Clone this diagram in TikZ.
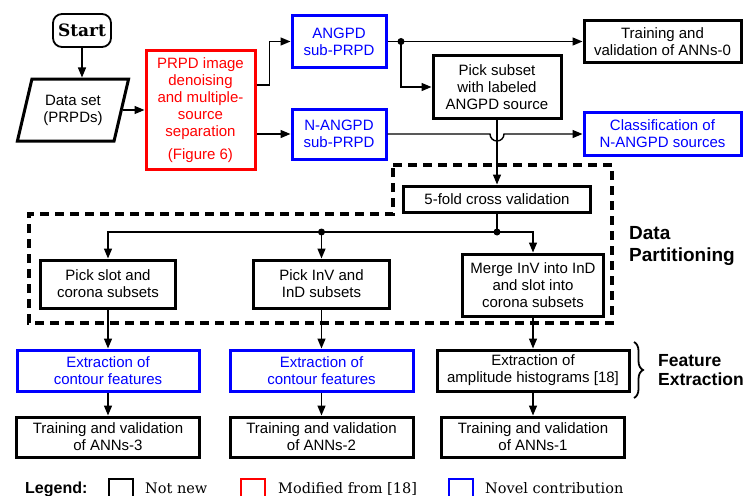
\documentclass[tikz,border=0pt]{standalone}
\usepackage{fontspec}
\setmainfont{Liberation Sans}
\newfontfamily\serifd{DejaVu Serif}
\usetikzlibrary{arrows.meta,shapes.geometric,decorations.pathreplacing}
\definecolor{myred}{RGB}{255,0,0}
\definecolor{myblue}{RGB}{0,0,255}
\begin{document}
\begin{tikzpicture}[x=1pt,y=-1pt,
  box/.style={draw, line width=3pt, align=center, inner sep=0pt,
    font=\fontsize{15}{17}\selectfont},
  blk/.style={box, draw=black},
  rbox/.style={box, draw=myred, text=myred},
  bbox/.style={box, draw=myblue, text=myblue},
  arr/.style={line width=1.4pt, -{Triangle[length=10pt,width=8pt]}},
  ln/.style={line width=1.4pt},
  jdot/.style={circle, fill=black, inner sep=0pt, minimum size=7pt},
  dashbox/.style={line width=3.2pt, dash pattern=on 9pt off 6pt},
  side/.style={anchor=west, align=left, inner sep=0pt},
  legsq/.style={draw, line width=1.6pt, minimum width=24pt, minimum height=24pt, anchor=north west, inner sep=0pt},
  legtxt/.style={anchor=base west, inner sep=0pt, font=\serifd\fontsize{14.5}{17}\selectfont}
]
\useasboundingbox (0,0) rectangle (746,495);

% top part
\node[blk, rounded corners=9pt, line width=1.8pt, minimum width=58pt, minimum height=33pt,
  font=\serifd\bfseries\fontsize{17}{20}\selectfont] (start) at (82,30.5) {Start};
\node[draw, line width=3pt, trapezium, trapezium left angle=71, trapezium right angle=109,
  trapezium stretches=true, minimum width=112pt, minimum height=62pt, inner sep=0pt,
  align=center, font=\fontsize{15}{17}\selectfont] (data) at (73,110) {Data set\\(PRPDs)};
\node[rbox, minimum width=109pt, minimum height=118pt] (red) at (200.5,110)
  {PRPD image\\denoising\\and multiple-\\source\\separation\\[6pt](Figure 6)};
\node[bbox, minimum width=94pt, minimum height=51pt] (angpd) at (339,41.5) {ANGPD\\sub-PRPD};
\node[bbox, minimum width=94pt, minimum height=50pt] (nangpd) at (339,134) {N-ANGPD\\sub-PRPD};
\node[blk, minimum width=157pt, minimum height=42pt] (ann0) at (662.5,41.5) {Training and\\validation of ANNs-0};
\node[blk, minimum width=128pt, minimum height=62pt] (pick) at (497,87) {Pick subset\\with labeled\\ANGPD source};
\node[bbox, minimum width=157pt, minimum height=43pt] (cls) at (662.5,134) {Classification of\\N-ANGPD sources};
\node[blk, minimum width=187pt, minimum height=26pt] (cv) at (497,199) {5-fold cross validation};

% partitioning
\node[blk, minimum width=135pt, minimum height=48pt] (slot) at (108,284) {Pick slot and\\corona subsets};
\node[blk, minimum width=136pt, minimum height=48pt] (inv) at (321.5,284) {Pick InV and\\InD subsets};
\node[blk, minimum width=141pt, minimum height=62pt] (merge) at (533,285) {Merge InV into InD\\and slot into\\corona subsets};

% feature extraction
\node[bbox, minimum width=182pt, minimum height=41pt] (ext3) at (108,370.5) {Extraction of\\contour features};
\node[bbox, minimum width=183pt, minimum height=41pt] (ext2) at (321.5,370.5) {Extraction of\\contour features};
\node[blk, minimum width=192pt, minimum height=41pt] (ext1) at (533,370.5) {Extraction of\\amplitude histograms [18]};

% training
\node[blk, minimum width=183pt, minimum height=40pt] (ann3) at (108,437) {Training and validation\\of ANNs-3};
\node[blk, minimum width=183pt, minimum height=40pt] (ann2) at (321.5,437) {Training and validation\\of ANNs-2};
\node[blk, minimum width=183pt, minimum height=40pt] (ann1) at (533,437) {Training and validation\\of ANNs-1};

% junctions
\node[jdot] (d1) at (401,41.5) {};
\node[jdot] (d2) at (497,232) {};
\node[jdot] (d3) at (321.5,232) {};

% connectors
\draw[arr] (start.south) -- (start.south |- data.north);
\draw[arr] (data.east) -- (red.west |- data.east);
\draw[arr] ([yshift=25pt]red.east) -- ++(13,0) |- (angpd.west);
\draw[arr] (red.east |- nangpd.west) -- (nangpd.west);
\draw[ln] (angpd.east) -- (d1.center);
\draw[arr] (d1.center) -- (ann0.west |- d1.center);
\draw[arr] (d1.center) |- (pick.west);
\draw[arr] (nangpd.east) -- ([xshift=-7pt]pick.south |- nangpd.east)
  arc[start angle=180, end angle=0, radius=7] -- (cls.west |- nangpd.east);
\draw[arr] (pick.south) -- (cv.north);
\draw[ln] (cv.south) -- (d2.center);
\draw[arr] (d2.center) -| (merge.north);
\draw[arr] (d2.center) -| (slot.north);
\draw[arr] (d3.center) -- (inv.north);
\draw[arr] (slot.south) -- (ext3.north);
\draw[arr] (inv.south) -- (ext2.north);
\draw[arr] (merge.south) -- (ext1.north);
\draw[arr] (ext3.south) -- (ann3.north);
\draw[arr] (ext2.south) -- (ann2.north);
\draw[arr] (ext1.south) -- (ann1.north);

% dashed region
\draw[dashbox] (393,165) -- (612,165) -- (612,323) -- (29,323) -- (29,214) -- (393,214) -- cycle;
\node[side, font=\bfseries\fontsize{19}{21.5}\selectfont] (dp) at (629,246) {Data\\Partitioning};

% brace
\draw[line width=1.8pt, decorate, decoration={brace, amplitude=9pt}] (634,342) -- (634,398);
\node[side, font=\bfseries\fontsize{17.5}{19}\selectfont] (fe) at (658,370) {Feature\\Extraction};

% legend
\node[anchor=base west, inner sep=0pt, font=\bfseries\fontsize{16}{18}\selectfont] (leg) at (25,493) {Legend:};
\node[legsq, draw=black] (lk) at (108,478) {};
\node[legtxt] (lkt) at (145,493) {Not new};
\node[legsq, draw=myred] (lr) at (240,478) {};
\node[legtxt] (lrt) at (278,493) {Modified from [18]};
\node[legsq, draw=myblue] (lb) at (448,478) {};
\node[legtxt] (lbt) at (485,493) {Novel contribution};
\end{tikzpicture}
\end{document}
